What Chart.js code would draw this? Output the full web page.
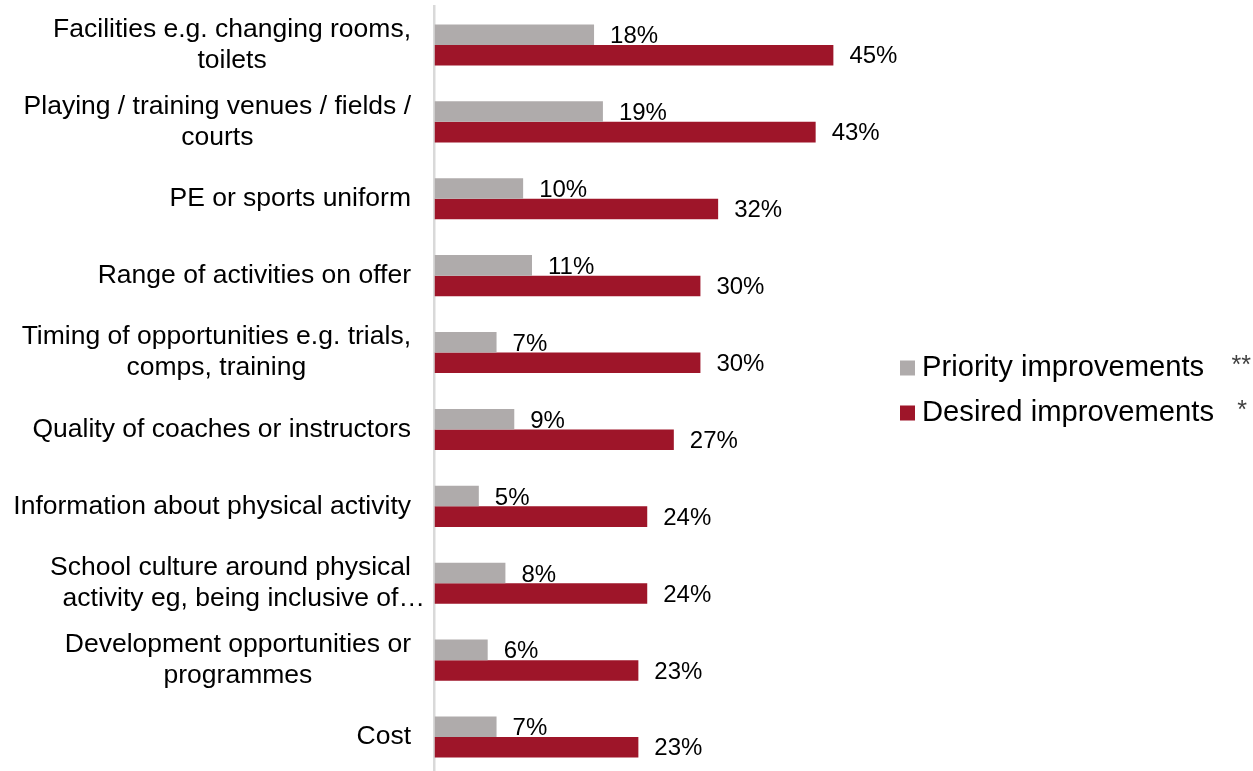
<!DOCTYPE html>
<html>
<head>
<meta charset="utf-8">
<title>Improvements</title>
<script src="https://cdn.jsdelivr.net/npm/chart.js@4/dist/chart.umd.min.js"></script>
<style>
    html, body {
        margin: 0;
        padding: 0;
        background: #ffffff;
        overflow: hidden;
    }
    .chart-box {
        position: relative;
        width: 1253px;
        height: 776px;
    }
</style>
</head>
<body>
<div class="chart-box">
    <canvas id="improvementsChart"></canvas>
</div>
<script>
// Categories (wrapped lines) and the two series, in percent
const categories = [
    ['Facilities e.g. changing rooms,', 'toilets'],
    ['Playing / training venues / fields /', 'courts'],
    ['PE or sports uniform'],
    ['Range of activities on offer'],
    ['Timing of opportunities e.g. trials,', 'comps, training'],
    ['Quality of coaches or instructors'],
    ['Information about physical activity'],
    ['School culture around physical', 'activity eg, being inclusive of…'],
    ['Development opportunities or', 'programmes'],
    ['Cost']
];
const priorityValues = [18, 19, 10, 11, 7, 9, 5, 8, 6, 7];
const desiredValues = [45, 43, 32, 30, 30, 27, 24, 24, 23, 23];

const seriesNames = ['Priority improvements', 'Desired improvements'];
const seriesMarks = ['**', '*'];
const seriesColors = ['#afabab', '#9e1529'];

const FONT = '"Liberation Sans", Arial, sans-serif';

// Category labels: block right-aligned against the axis, lines centred inside it
const categoryLabels = {
    id: 'categoryLabels',
    afterDraw(chart) {
        const ctx = chart.ctx;
        const yScale = chart.scales.y;
        const right = 411;
        const lineH = 31;
        ctx.save();
        ctx.font = '26.5px ' + FONT;
        ctx.fillStyle = '#000000';
        ctx.textBaseline = 'middle';
        ctx.textAlign = 'center';
        categories.forEach((lines, i) => {
            const y = yScale.getPixelForValue(i);
            // trailing ellipsis hangs outside the wrapped block
            const widths = lines.map(l => ctx.measureText(l.replace(/…$/, '')).width);
            const blockW = Math.max(...widths);
            const cx = right - blockW / 2;
            const y0 = y - (lines.length - 1) * lineH / 2;
            lines.forEach((line, k) => {
                const w = ctx.measureText(line).width;
                const x = cx - widths[k] / 2 + w / 2;
                ctx.fillText(line, x, y0 + k * lineH);
            });
        });
        ctx.restore();
    }
};

// Value labels just past the end of each bar
const valueLabels = {
    id: 'valueLabels',
    afterDatasetsDraw(chart) {
        const ctx = chart.ctx;
        ctx.save();
        ctx.font = '24px ' + FONT;
        ctx.fillStyle = '#000000';
        ctx.textAlign = 'left';
        ctx.textBaseline = 'middle';
        chart.data.datasets.forEach((ds, di) => {
            chart.getDatasetMeta(di).data.forEach((bar, i) => {
                ctx.fillText(ds.data[i] + '%', bar.x + 16, bar.y + (di === 0 ? 2 : 1.5));
            });
        });
        ctx.restore();
    }
};

// Legend on the right, with the significance markers after each entry
const sideLegend = {
    id: 'sideLegend',
    afterDraw(chart) {
        const ctx = chart.ctx;
        const rows = [368, 413];
        const markRight = [1251, 1247];
        ctx.save();
        ctx.textBaseline = 'middle';
        ctx.textAlign = 'left';
        seriesNames.forEach((name, i) => {
            const y = rows[i];
            ctx.fillStyle = seriesColors[i];
            ctx.fillRect(900, y - 7.5, 15, 15);
            ctx.fillStyle = '#000000';
            ctx.font = '29.2px ' + FONT;
            ctx.fillText(name, 922, y);
            ctx.fillStyle = '#404040';
            ctx.font = '25px ' + FONT;
            ctx.textAlign = 'right';
            ctx.fillText(seriesMarks[i], markRight[i], y - 2);
            ctx.textAlign = 'left';
        });
        ctx.restore();
    }
};

const ctx = document.getElementById('improvementsChart');
new Chart(ctx, {
    type: 'bar',
    data: {
        labels: categories.map(c => c.join(' ')),
        datasets: [
            {
                label: seriesNames[0],
                data: priorityValues,
                backgroundColor: seriesColors[0],
                barPercentage: 1,
                categoryPercentage: 0.535
            },
            {
                label: seriesNames[1],
                data: desiredValues,
                backgroundColor: seriesColors[1],
                barPercentage: 1,
                categoryPercentage: 0.535
            }
        ]
    },
    options: {
        indexAxis: 'y',
        responsive: true,
        maintainAspectRatio: false,
        animation: false,
        layout: {
            padding: { top: 6.5, bottom: 0.5, left: 0, right: 375.3 }
        },
        plugins: {
            legend: { display: false },
            tooltip: { enabled: false }
        },
        scales: {
            x: {
                display: false,
                min: 0,
                max: 50
            },
            y: {
                afterFit(scale) {
                    scale.width = 434.5;
                },
                grid: { display: false },
                border: { display: true, color: '#d9d9d9', width: 2.5 },
                ticks: { display: false }
            }
        }
    },
    plugins: [categoryLabels, valueLabels, sideLegend]
});
</script>
</body>
</html>
